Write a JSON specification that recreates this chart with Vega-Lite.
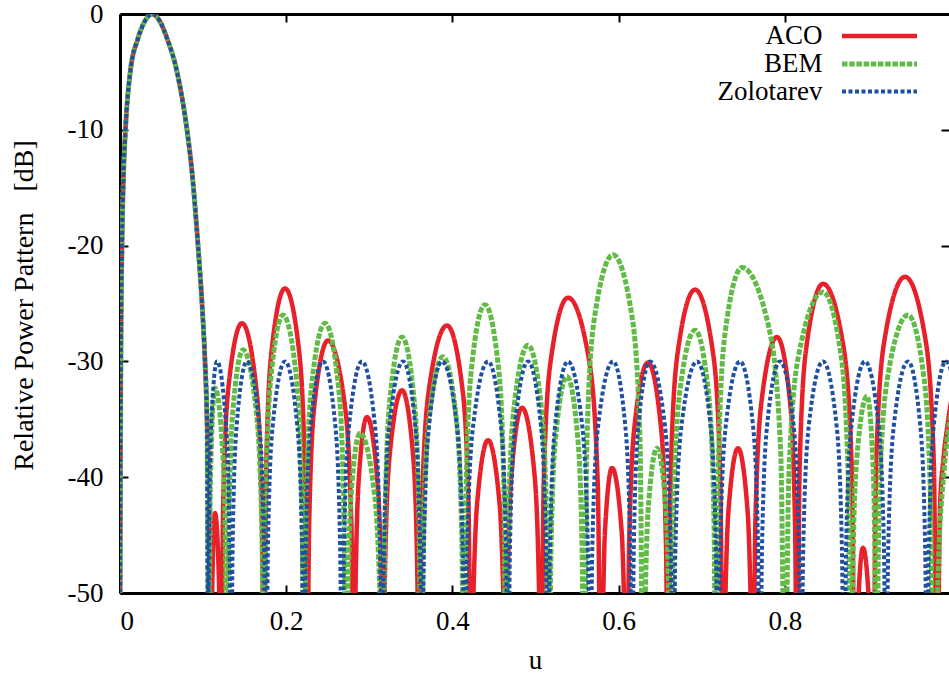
{
"$schema": "https://vega.github.io/schema/vega-lite/v6.json",
"width": 829, "height": 579,
"autosize": {"type": "none"},
"padding": {"left": 120, "top": 14, "right": 0, "bottom": 83},
"background": "white",
"config": {
  "view": {"stroke": null},
  "font": "Liberation Serif",
  "axis": {"labelFont": "Liberation Serif", "labelFontSize": 27, "labelColor": "black", "titleFont": "Liberation Serif", "titleFontSize": 27, "titleFontWeight": "normal", "titleColor": "black", "tickColor": "black", "tickWidth": 2, "tickSize": -8, "domainColor": "black", "domainWidth": 3, "grid": false},
  "legend": {"orient": "none", "legendX": 744.5, "legendY": 7, "symbolType": "M-3,0H3", "symbolSize": 625, "labelFont": "Liberation Serif", "labelFontSize": 27, "labelColor": "black", "labelAlign": "right", "labelOffset": -72, "rowPadding": -1, "padding": 0, "labelLimit": 0}
},
"datasets": {"main": [
{"s":"ACO","u":0,"db":-55},{"s":"ACO","u":0.0005,"db":-40},{"s":"ACO","u":0.0012,"db":-28},{"s":"ACO","u":0.0024,"db":-20},{"s":"ACO","u":0.0042,"db":-14},{"s":"ACO","u":0.0066,"db":-10},{"s":"ACO","u":0.012,"db":-5.2},{"s":"ACO","u":0.0217,"db":-2.1},{"s":"ACO","u":0.0301,"db":-0.6},{"s":"ACO","u":0.0385,"db":0},{"s":"ACO","u":0.0469,"db":-0.5},{"s":"ACO","u":0.0566,"db":-2.1},{"s":"ACO","u":0.0686,"db":-5},{"s":"ACO","u":0.0806,"db":-10},{"s":"ACO","u":0.0866,"db":-13.6},{"s":"ACO","u":0.0939,"db":-20},{"s":"ACO","u":0.0987,"db":-25},{"s":"ACO","u":0.1023,"db":-30},{"s":"ACO","u":0.1047,"db":-35},
{"s":"ACO","u":0.1071,"db":-40},{"s":"ACO","u":0.1095,"db":-60},
{"s":"ACO","u":0.1112,"db":-48.7},{"s":"ACO","u":0.1143,"db":-43.1},{"s":"ACO","u":0.119,"db":-48.7},{"s":"ACO","u":0.1215,"db":-60},
{"s":"ACO","u":0.1241,"db":-42.7},{"s":"ACO","u":0.1304,"db":-32.3},{"s":"ACO","u":0.1468,"db":-26.7},{"s":"ACO","u":0.164,"db":-32.3},{"s":"ACO","u":0.1706,"db":-42.7},{"s":"ACO","u":0.1733,"db":-60},
{"s":"ACO","u":0.1758,"db":-39.7},{"s":"ACO","u":0.1821,"db":-29.3},{"s":"ACO","u":0.1986,"db":-23.7},{"s":"ACO","u":0.2158,"db":-29.3},{"s":"ACO","u":0.2224,"db":-39.7},{"s":"ACO","u":0.225,"db":-60},
{"s":"ACO","u":0.2276,"db":-44.2},{"s":"ACO","u":0.2339,"db":-33.8},{"s":"ACO","u":0.2503,"db":-28.2},{"s":"ACO","u":0.2706,"db":-33.8},{"s":"ACO","u":0.2785,"db":-44.2},{"s":"ACO","u":0.2816,"db":-60},
{"s":"ACO","u":0.2832,"db":-50.8},{"s":"ACO","u":0.2871,"db":-40.4},{"s":"ACO","u":0.2972,"db":-34.8},{"s":"ACO","u":0.3098,"db":-40.4},{"s":"ACO","u":0.3146,"db":-50.8},{"s":"ACO","u":0.3165,"db":-60},
{"s":"ACO","u":0.3188,"db":-48.5},{"s":"ACO","u":0.3245,"db":-38.1},{"s":"ACO","u":0.3394,"db":-32.5},{"s":"ACO","u":0.3527,"db":-38.1},{"s":"ACO","u":0.3578,"db":-48.5},{"s":"ACO","u":0.3598,"db":-60},
{"s":"ACO","u":0.3632,"db":-42.9},{"s":"ACO","u":0.3716,"db":-32.5},{"s":"ACO","u":0.3935,"db":-26.9},{"s":"ACO","u":0.4123,"db":-32.5},{"s":"ACO","u":0.4195,"db":-42.9},{"s":"ACO","u":0.4224,"db":-60},
{"s":"ACO","u":0.4244,"db":-52.8},{"s":"ACO","u":0.4296,"db":-42.4},{"s":"ACO","u":0.4429,"db":-36.8},{"s":"ACO","u":0.4569,"db":-42.4},{"s":"ACO","u":0.4623,"db":-52.8},{"s":"ACO","u":0.4645,"db":-60},
{"s":"ACO","u":0.4664,"db":-50},{"s":"ACO","u":0.4712,"db":-39.6},{"s":"ACO","u":0.4838,"db":-34},{"s":"ACO","u":0.4986,"db":-39.6},{"s":"ACO","u":0.5043,"db":-50},{"s":"ACO","u":0.5066,"db":-60},
{"s":"ACO","u":0.5099,"db":-40.5},{"s":"ACO","u":0.518,"db":-30.1},{"s":"ACO","u":0.5391,"db":-24.5},{"s":"ACO","u":0.5649,"db":-30.1},{"s":"ACO","u":0.5749,"db":-40.5},{"s":"ACO","u":0.5788,"db":-60},
{"s":"ACO","u":0.5802,"db":-55.2},{"s":"ACO","u":0.5835,"db":-44.8},{"s":"ACO","u":0.5921,"db":-39.2},{"s":"ACO","u":0.6038,"db":-44.8},{"s":"ACO","u":0.6083,"db":-55.2},{"s":"ACO","u":0.6101,"db":-60},
{"s":"ACO","u":0.6126,"db":-46.1},{"s":"ACO","u":0.619,"db":-35.7},{"s":"ACO","u":0.6354,"db":-30.1},{"s":"ACO","u":0.651,"db":-35.7},{"s":"ACO","u":0.6571,"db":-46.1},{"s":"ACO","u":0.6595,"db":-60},
{"s":"ACO","u":0.6627,"db":-39.8},{"s":"ACO","u":0.6708,"db":-29.4},{"s":"ACO","u":0.692,"db":-23.8},{"s":"ACO","u":0.7139,"db":-29.4},{"s":"ACO","u":0.7223,"db":-39.8},{"s":"ACO","u":0.7257,"db":-60},
{"s":"ACO","u":0.7275,"db":-53.5},{"s":"ACO","u":0.732,"db":-43.1},{"s":"ACO","u":0.7437,"db":-37.5},{"s":"ACO","u":0.7554,"db":-43.1},{"s":"ACO","u":0.7599,"db":-53.5},{"s":"ACO","u":0.7618,"db":-60},
{"s":"ACO","u":0.7646,"db":-43.9},{"s":"ACO","u":0.7719,"db":-33.5},{"s":"ACO","u":0.7906,"db":-27.9},{"s":"ACO","u":0.8063,"db":-33.5},{"s":"ACO","u":0.8123,"db":-43.9},{"s":"ACO","u":0.8147,"db":-60},
{"s":"ACO","u":0.8178,"db":-39.3},{"s":"ACO","u":0.8257,"db":-28.9},{"s":"ACO","u":0.846,"db":-23.3},{"s":"ACO","u":0.871,"db":-28.9},{"s":"ACO","u":0.8806,"db":-39.3},{"s":"ACO","u":0.8845,"db":-60},
{"s":"ACO","u":0.8879,"db":-51.7},{"s":"ACO","u":0.8941,"db":-46.1},{"s":"ACO","u":0.9019,"db":-51.7},{"s":"ACO","u":0.9062,"db":-60},
{"s":"ACO","u":0.91,"db":-38.7},{"s":"ACO","u":0.9196,"db":-28.3},{"s":"ACO","u":0.9447,"db":-22.7},{"s":"ACO","u":0.9697,"db":-28.3},{"s":"ACO","u":0.9793,"db":-38.7},{"s":"ACO","u":0.9832,"db":-60},
{"s":"ACO","u":0.9868,"db":-42.5},{"s":"ACO","u":0.9908,"db":-38.5},{"s":"ACO","u":0.9956,"db":-35.6},{"s":"ACO","u":1.0,"db":-33.5},{"s":"ACO","u":1.0048,"db":-32},

{"s":"BEM","u":0,"db":-55},{"s":"BEM","u":0.0005,"db":-40},{"s":"BEM","u":0.0012,"db":-28},{"s":"BEM","u":0.0024,"db":-20},{"s":"BEM","u":0.0042,"db":-14},{"s":"BEM","u":0.0066,"db":-10},{"s":"BEM","u":0.012,"db":-5.2},{"s":"BEM","u":0.0217,"db":-2.1},{"s":"BEM","u":0.0301,"db":-0.6},{"s":"BEM","u":0.0385,"db":0},{"s":"BEM","u":0.0469,"db":-0.5},{"s":"BEM","u":0.0566,"db":-2.1},{"s":"BEM","u":0.0686,"db":-5},{"s":"BEM","u":0.0806,"db":-10},{"s":"BEM","u":0.0866,"db":-13.6},{"s":"BEM","u":0.0939,"db":-20},{"s":"BEM","u":0.0987,"db":-25},{"s":"BEM","u":0.1023,"db":-30},{"s":"BEM","u":0.1047,"db":-35},
{"s":"BEM","u":0.1071,"db":-60},
{"s":"BEM","u":0.1078,"db":-48.3},{"s":"BEM","u":0.1096,"db":-37.9},{"s":"BEM","u":0.1143,"db":-32.3},{"s":"BEM","u":0.1237,"db":-37.9},{"s":"BEM","u":0.1273,"db":-48.3},{"s":"BEM","u":0.1288,"db":-60},
{"s":"BEM","u":0.1307,"db":-45},{"s":"BEM","u":0.1355,"db":-34.6},{"s":"BEM","u":0.148,"db":-29},{"s":"BEM","u":0.1644,"db":-34.6},{"s":"BEM","u":0.1708,"db":-45},{"s":"BEM","u":0.1733,"db":-60},
{"s":"BEM","u":0.1756,"db":-42},{"s":"BEM","u":0.1813,"db":-31.6},{"s":"BEM","u":0.1962,"db":-26},{"s":"BEM","u":0.2126,"db":-31.6},{"s":"BEM","u":0.2189,"db":-42},{"s":"BEM","u":0.2214,"db":-60},
{"s":"BEM","u":0.224,"db":-42.7},{"s":"BEM","u":0.2303,"db":-32.3},{"s":"BEM","u":0.2467,"db":-26.7},{"s":"BEM","u":0.2631,"db":-32.3},{"s":"BEM","u":0.2694,"db":-42.7},{"s":"BEM","u":0.272,"db":-60},
{"s":"BEM","u":0.2737,"db":-52.2},{"s":"BEM","u":0.2779,"db":-41.8},{"s":"BEM","u":0.2888,"db":-36.2},{"s":"BEM","u":0.3068,"db":-41.8},{"s":"BEM","u":0.3137,"db":-52.2},{"s":"BEM","u":0.3165,"db":-60},
{"s":"BEM","u":0.3188,"db":-43.9},{"s":"BEM","u":0.3245,"db":-33.5},{"s":"BEM","u":0.3394,"db":-27.9},{"s":"BEM","u":0.3542,"db":-33.5},{"s":"BEM","u":0.3599,"db":-43.9},{"s":"BEM","u":0.3622,"db":-60},
{"s":"BEM","u":0.3649,"db":-45.6},{"s":"BEM","u":0.3715,"db":-35.2},{"s":"BEM","u":0.3887,"db":-29.6},{"s":"BEM","u":0.4051,"db":-35.2},{"s":"BEM","u":0.4114,"db":-45.6},{"s":"BEM","u":0.414,"db":-60},
{"s":"BEM","u":0.4165,"db":-41.1},{"s":"BEM","u":0.4228,"db":-30.7},{"s":"BEM","u":0.4392,"db":-25.1},{"s":"BEM","u":0.4557,"db":-30.7},{"s":"BEM","u":0.462,"db":-41.1},{"s":"BEM","u":0.4645,"db":-60},
{"s":"BEM","u":0.4672,"db":-44.6},{"s":"BEM","u":0.4738,"db":-34.2},{"s":"BEM","u":0.491,"db":-28.6},{"s":"BEM","u":0.5074,"db":-34.2},{"s":"BEM","u":0.5137,"db":-44.6},{"s":"BEM","u":0.5163,"db":-60},
{"s":"BEM","u":0.5184,"db":-47.3},{"s":"BEM","u":0.5238,"db":-36.9},{"s":"BEM","u":0.5379,"db":-31.3},{"s":"BEM","u":0.5512,"db":-36.9},{"s":"BEM","u":0.5563,"db":-47.3},{"s":"BEM","u":0.5584,"db":-60},
{"s":"BEM","u":0.5619,"db":-36.8},{"s":"BEM","u":0.5706,"db":-26.4},{"s":"BEM","u":0.5933,"db":-20.8},{"s":"BEM","u":0.6167,"db":-26.4},{"s":"BEM","u":0.6258,"db":-36.8},{"s":"BEM","u":0.6294,"db":-60},
{"s":"BEM","u":0.6311,"db":-53.5},{"s":"BEM","u":0.6353,"db":-43.1},{"s":"BEM","u":0.6462,"db":-37.5},{"s":"BEM","u":0.6572,"db":-43.1},{"s":"BEM","u":0.6614,"db":-53.5},{"s":"BEM","u":0.6631,"db":-60},
{"s":"BEM","u":0.666,"db":-43.3},{"s":"BEM","u":0.6732,"db":-32.9},{"s":"BEM","u":0.692,"db":-27.3},{"s":"BEM","u":0.7084,"db":-32.9},{"s":"BEM","u":0.7147,"db":-43.3},{"s":"BEM","u":0.7172,"db":-60},
{"s":"BEM","u":0.7204,"db":-37.9},{"s":"BEM","u":0.7282,"db":-27.5},{"s":"BEM","u":0.7485,"db":-21.9},{"s":"BEM","u":0.7821,"db":-27.5},{"s":"BEM","u":0.7951,"db":-37.9},{"s":"BEM","u":0.8003,"db":-60},
{"s":"BEM","u":0.8048,"db":-40},{"s":"BEM","u":0.8163,"db":-29.6},{"s":"BEM","u":0.846,"db":-24},{"s":"BEM","u":0.8679,"db":-29.6},{"s":"BEM","u":0.8763,"db":-40},{"s":"BEM","u":0.8797,"db":-60},
{"s":"BEM","u":0.8816,"db":-49},{"s":"BEM","u":0.8864,"db":-38.6},{"s":"BEM","u":0.8989,"db":-33},{"s":"BEM","u":0.906,"db":-38.6},{"s":"BEM","u":0.9087,"db":-49},{"s":"BEM","u":0.9098,"db":-60},
{"s":"BEM","u":0.9136,"db":-42},{"s":"BEM","u":0.9232,"db":-31.6},{"s":"BEM","u":0.9483,"db":-26},{"s":"BEM","u":0.9678,"db":-31.6},{"s":"BEM","u":0.9754,"db":-42},{"s":"BEM","u":0.9784,"db":-60},
{"s":"BEM","u":0.9868,"db":-44},{"s":"BEM","u":0.9916,"db":-39.5},{"s":"BEM","u":0.9952,"db":-36.8},{"s":"BEM","u":1.0,"db":-34.5},{"s":"BEM","u":1.0048,"db":-33},

{"s":"Zolotarev","u":0,"db":-55},{"s":"Zolotarev","u":0.0005,"db":-40},{"s":"Zolotarev","u":0.0012,"db":-28},{"s":"Zolotarev","u":0.0024,"db":-20},{"s":"Zolotarev","u":0.0042,"db":-14},{"s":"Zolotarev","u":0.0066,"db":-10},{"s":"Zolotarev","u":0.012,"db":-5.2},{"s":"Zolotarev","u":0.0217,"db":-2.1},{"s":"Zolotarev","u":0.0301,"db":-0.6},{"s":"Zolotarev","u":0.0385,"db":0},{"s":"Zolotarev","u":0.0469,"db":-0.5},{"s":"Zolotarev","u":0.0566,"db":-2.1},{"s":"Zolotarev","u":0.0686,"db":-5},{"s":"Zolotarev","u":0.0806,"db":-10},{"s":"Zolotarev","u":0.0866,"db":-13.6},{"s":"Zolotarev","u":0.0939,"db":-20},{"s":"Zolotarev","u":0.0987,"db":-25},{"s":"Zolotarev","u":0.1023,"db":-30},{"s":"Zolotarev","u":0.1047,"db":-35},
{"s":"Zolotarev","u":0.1059,"db":-60},
{"s":"Zolotarev","u":0.107,"db":-46},{"s":"Zolotarev","u":0.1097,"db":-35.6},{"s":"Zolotarev","u":0.1167,"db":-30},{"s":"Zolotarev","u":0.1277,"db":-35.6},{"s":"Zolotarev","u":0.1319,"db":-46},{"s":"Zolotarev","u":0.1336,"db":-60},
{"s":"Zolotarev","u":0.1355,"db":-46},{"s":"Zolotarev","u":0.1403,"db":-35.6},{"s":"Zolotarev","u":0.1528,"db":-30},{"s":"Zolotarev","u":0.1677,"db":-35.6},{"s":"Zolotarev","u":0.1734,"db":-46},{"s":"Zolotarev","u":0.1757,"db":-60},
{"s":"Zolotarev","u":0.178,"db":-46},{"s":"Zolotarev","u":0.1837,"db":-35.6},{"s":"Zolotarev","u":0.1986,"db":-30},{"s":"Zolotarev","u":0.2134,"db":-35.6},{"s":"Zolotarev","u":0.2191,"db":-46},{"s":"Zolotarev","u":0.2214,"db":-60},
{"s":"Zolotarev","u":0.2237,"db":-46},{"s":"Zolotarev","u":0.2294,"db":-35.6},{"s":"Zolotarev","u":0.2443,"db":-30},{"s":"Zolotarev","u":0.2592,"db":-35.6},{"s":"Zolotarev","u":0.2649,"db":-46},{"s":"Zolotarev","u":0.2672,"db":-60},
{"s":"Zolotarev","u":0.2696,"db":-46},{"s":"Zolotarev","u":0.2756,"db":-35.6},{"s":"Zolotarev","u":0.2912,"db":-30},{"s":"Zolotarev","u":0.3069,"db":-35.6},{"s":"Zolotarev","u":0.3129,"db":-46},{"s":"Zolotarev","u":0.3153,"db":-60},
{"s":"Zolotarev","u":0.3178,"db":-46},{"s":"Zolotarev","u":0.3241,"db":-35.6},{"s":"Zolotarev","u":0.3406,"db":-30},{"s":"Zolotarev","u":0.3554,"db":-35.6},{"s":"Zolotarev","u":0.3611,"db":-46},{"s":"Zolotarev","u":0.3634,"db":-60},
{"s":"Zolotarev","u":0.3658,"db":-46},{"s":"Zolotarev","u":0.3718,"db":-35.6},{"s":"Zolotarev","u":0.3875,"db":-30},{"s":"Zolotarev","u":0.4055,"db":-35.6},{"s":"Zolotarev","u":0.4124,"db":-46},{"s":"Zolotarev","u":0.4152,"db":-60},
{"s":"Zolotarev","u":0.4179,"db":-46},{"s":"Zolotarev","u":0.4249,"db":-35.6},{"s":"Zolotarev","u":0.4429,"db":-30},{"s":"Zolotarev","u":0.4585,"db":-35.6},{"s":"Zolotarev","u":0.4645,"db":-46},{"s":"Zolotarev","u":0.4669,"db":-60},
{"s":"Zolotarev","u":0.4693,"db":-46},{"s":"Zolotarev","u":0.4753,"db":-35.6},{"s":"Zolotarev","u":0.491,"db":-30},{"s":"Zolotarev","u":0.5066,"db":-35.6},{"s":"Zolotarev","u":0.5126,"db":-46},{"s":"Zolotarev","u":0.5151,"db":-60},
{"s":"Zolotarev","u":0.5175,"db":-46},{"s":"Zolotarev","u":0.5235,"db":-35.6},{"s":"Zolotarev","u":0.5391,"db":-30},{"s":"Zolotarev","u":0.5563,"db":-35.6},{"s":"Zolotarev","u":0.563,"db":-46},{"s":"Zolotarev","u":0.5656,"db":-60},
{"s":"Zolotarev","u":0.5684,"db":-46},{"s":"Zolotarev","u":0.5753,"db":-35.6},{"s":"Zolotarev","u":0.5933,"db":-30},{"s":"Zolotarev","u":0.6081,"db":-35.6},{"s":"Zolotarev","u":0.6139,"db":-46},{"s":"Zolotarev","u":0.6161,"db":-60},
{"s":"Zolotarev","u":0.6183,"db":-46},{"s":"Zolotarev","u":0.6237,"db":-35.6},{"s":"Zolotarev","u":0.6378,"db":-30},{"s":"Zolotarev","u":0.6558,"db":-35.6},{"s":"Zolotarev","u":0.6627,"db":-46},{"s":"Zolotarev","u":0.6655,"db":-60},
{"s":"Zolotarev","u":0.6684,"db":-46},{"s":"Zolotarev","u":0.6756,"db":-35.6},{"s":"Zolotarev","u":0.6944,"db":-30},{"s":"Zolotarev","u":0.7108,"db":-35.6},{"s":"Zolotarev","u":0.7171,"db":-46},{"s":"Zolotarev","u":0.7196,"db":-60},
{"s":"Zolotarev","u":0.7223,"db":-46},{"s":"Zolotarev","u":0.7289,"db":-35.6},{"s":"Zolotarev","u":0.7461,"db":-30},{"s":"Zolotarev","u":0.7618,"db":-35.6},{"s":"Zolotarev","u":0.7678,"db":-46},{"s":"Zolotarev","u":0.7702,"db":-60},
{"s":"Zolotarev","u":0.7726,"db":-46},{"s":"Zolotarev","u":0.7786,"db":-35.6},{"s":"Zolotarev","u":0.7942,"db":-30},{"s":"Zolotarev","u":0.8107,"db":-35.6},{"s":"Zolotarev","u":0.817,"db":-46},{"s":"Zolotarev","u":0.8195,"db":-60},
{"s":"Zolotarev","u":0.8222,"db":-46},{"s":"Zolotarev","u":0.8288,"db":-35.6},{"s":"Zolotarev","u":0.846,"db":-30},{"s":"Zolotarev","u":0.8624,"db":-35.6},{"s":"Zolotarev","u":0.8687,"db":-46},{"s":"Zolotarev","u":0.8713,"db":-60},
{"s":"Zolotarev","u":0.8738,"db":-46},{"s":"Zolotarev","u":0.8801,"db":-35.6},{"s":"Zolotarev","u":0.8965,"db":-30},{"s":"Zolotarev","u":0.913,"db":-35.6},{"s":"Zolotarev","u":0.9193,"db":-46},{"s":"Zolotarev","u":0.9218,"db":-60},
{"s":"Zolotarev","u":0.9245,"db":-46},{"s":"Zolotarev","u":0.9311,"db":-35.6},{"s":"Zolotarev","u":0.9483,"db":-30},{"s":"Zolotarev","u":0.9631,"db":-35.6},{"s":"Zolotarev","u":0.9689,"db":-46},{"s":"Zolotarev","u":0.9711,"db":-60},
{"s":"Zolotarev","u":0.9734,"db":-46},{"s":"Zolotarev","u":0.9792,"db":-35.6},{"s":"Zolotarev","u":0.994,"db":-30},{"s":"Zolotarev","u":1.0097,"db":-35.6},{"s":"Zolotarev","u":1.0157,"db":-46},{"s":"Zolotarev","u":1.0181,"db":-60}
]},
"data": {"name": "main"},
"layer": [
  {
    "mark": {"type": "line", "interpolate": "monotone", "clip": true, "strokeCap": "butt", "strokeJoin": "round"},
    "encoding": {
      "x": {"field": "u", "type": "quantitative", "scale": {"domain": [0, 0.99759], "nice": false, "zero": false},
            "axis": {"orient": "bottom", "values": [0, 0.2, 0.4, 0.6, 0.8], "labelExpr": "toString(datum.value)", "labelPadding": 23, "title": "u", "titleX": 415, "titleY": 75, "titleBaseline": "alphabetic", "titleAlign": "center"}},
      "y": {"field": "db", "type": "quantitative", "scale": {"domain": [-50, 0], "nice": false, "zero": false},
            "axis": {"orient": "left", "values": [-50, -40, -30, -20, -10, 0], "labelExpr": "toString(datum.value)", "labelPadding": 25, "title": "Relative Power Pattern\u00a0\u00a0 [dB]", "titleFontSize": 28, "titleAngle": -90, "titleX": -88, "titleY": 291, "titleBaseline": "alphabetic", "titleAlign": "center"}},
      "color": {"field": "s", "type": "nominal", "scale": {"domain": ["ACO", "BEM", "Zolotarev"], "range": ["#e8202a", "#62bb46", "#1f4fa0"]}, "legend": {"title": null}},
      "strokeDash": {"field": "s", "type": "nominal", "scale": {"domain": ["ACO", "BEM", "Zolotarev"], "range": [[1, 0], [5.5, 1.7], [4, 2.5]]}, "legend": {"title": null}},
      "strokeWidth": {"field": "s", "type": "nominal", "scale": {"type": "ordinal", "domain": ["ACO", "BEM", "Zolotarev"], "range": [4.5, 5, 4]}, "legend": {"title": null}}
    }
  },
  {
    "mark": {"type": "line", "opacity": 0},
    "encoding": {
      "x": {"field": "u", "type": "quantitative", "axis": {"orient": "top", "values": [0, 0.2, 0.4, 0.6, 0.8], "labels": false, "title": null}},
      "y": {"field": "db", "type": "quantitative", "axis": {"orient": "right", "values": [-50, -40, -30, -20, -10, 0], "labels": false, "title": null, "domain": false}}
    }
  }
],
"resolve": {"axis": {"x": "independent", "y": "independent"}}
}
